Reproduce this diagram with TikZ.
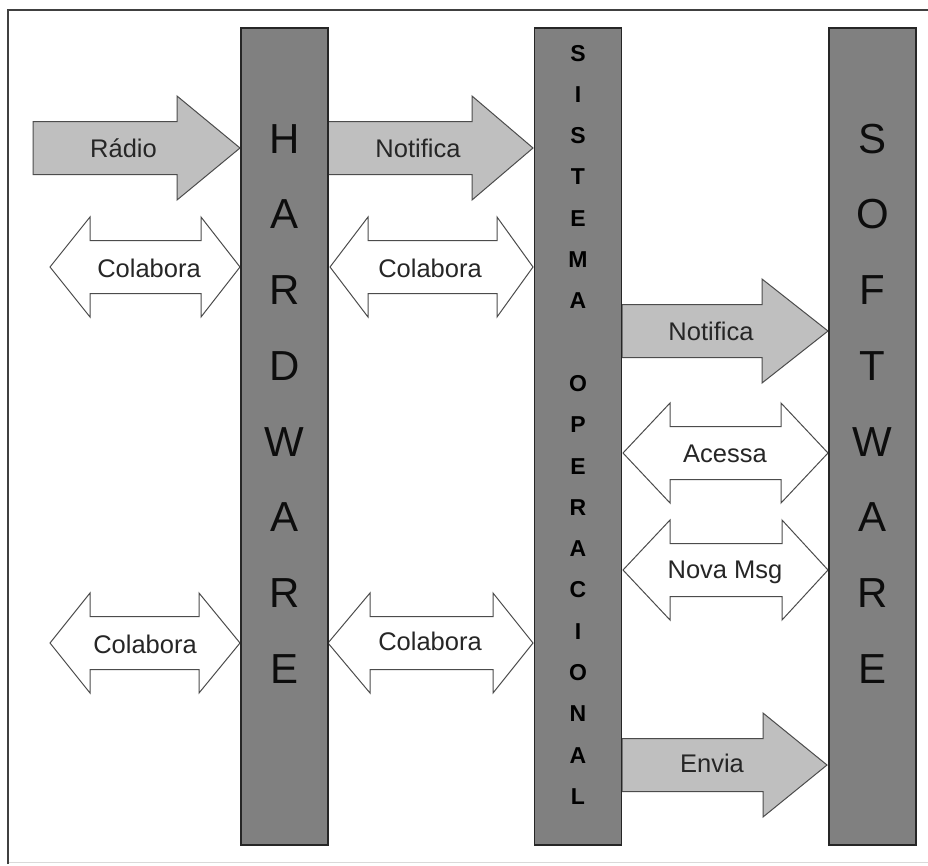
\documentclass[tikz,border=0pt]{standalone}
\usepackage{fontspec}
\setmainfont{Liberation Sans}

% one-way block arrow: left x, head base x, tip x, centre y
\newcommand\fwdarrow[4]{%
  \draw[fatarrow] (#1,#4-26.5) -- (#2,#4-26.5) -- (#2,#4-52) -- (#3,#4)
    -- (#2,#4+52) -- (#2,#4+26.5) -- (#1,#4+26.5) -- cycle;}
% two-way block arrow: left tip x, left base x, right base x, right tip x, centre y
\newcommand\bothways[5]{%
  \draw[twoway] (#1,#5) -- (#2,#5-50) -- (#2,#5-26.5) -- (#3,#5-26.5)
    -- (#3,#5-50) -- (#4,#5) -- (#3,#5+50) -- (#3,#5+26.5)
    -- (#2,#5+26.5) -- (#2,#5+50) -- cycle;}

\begin{document}
\begin{tikzpicture}[x=1pt,y=-1pt,
  frame/.style={draw=black!75, line width=1.8pt},
  bar/.style={draw=black!85, line width=1.5pt, fill=black!50, rectangle,
    minimum width=87pt, minimum height=817pt, inner sep=0pt},
  fatarrow/.style={draw=black!70, line width=1pt, fill=black!25, line join=miter},
  twoway/.style={draw=black!70, line width=1pt, fill=white, line join=miter},
  lbl/.style={font=\fontsize{25.5}{30}\selectfont, text=black!85, anchor=base, inner sep=0pt},
  bigletter/.style={font=\fontsize{42}{48}\selectfont, text=black!95, anchor=base, inner sep=0pt},
  soletter/.style={font=\bfseries\fontsize{23}{26}\selectfont, text=black, anchor=base, inner sep=0pt}
]
\useasboundingbox (0,0) rectangle (928,865);
\fill[white] (0,0) rectangle (928,865);

% outer frame (right side runs off the page)
\draw[black!15, line width=1pt] (8,862) -- (928,862);
\draw[frame] (8,864) -- (8,10) -- (928,10);

% block arrows
\fwdarrow{33}{177}{240}{148}
\fwdarrow{328}{472}{533}{148}
\fwdarrow{622}{762}{828}{331}
\fwdarrow{622}{763}{827}{765}

\bothways{50}{90}{201}{240}{267}
\bothways{330}{368}{497}{533}{267}
\bothways{623}{670}{781}{828}{453}
\bothways{623}{670}{782}{828}{570}
\bothways{50}{90}{199}{240}{643}
\bothways{328}{370}{493}{533}{643}

% vertical layers
\node[bar] (hw) at (284.5,436.5) {};
\node[bar] (so) at (578,436.5) {};
\node[bar] (sw) at (872.5,436.5) {};

\foreach \ch [count=\i from 0] in {H,A,R,D,W,A,R,E}
  \node[bigletter] (hw\i) at (284.5,{153+75.75*\i}) {\ch};
\foreach \ch [count=\i from 0] in {S,O,F,T,W,A,R,E}
  \node[bigletter] (sw\i) at (872.5,{153+75.75*\i}) {\ch};
\foreach \ch [count=\i from 0] in {S,I,S,T,E,M,A}
  \node[soletter] (so\i) at (578,{61+41.3*\i}) {\ch};
\foreach \ch [count=\i from 8] in {O,P,E,R,A,C,I,O,N,A,L}
  \node[soletter] (so\i) at (578,{61+41.3*\i}) {\ch};

% arrow labels
\node[lbl] (radio)   at (123.5,157) {Rádio};
\node[lbl] (colab1)  at (149,277)   {Colabora};
\node[lbl] (notif1)  at (418,157)   {Notifica};
\node[lbl] (colab2)  at (430,277)   {Colabora};
\node[lbl] (notif2)  at (711,340)   {Notifica};
\node[lbl] (acessa)  at (725,462)   {Acessa};
\node[lbl] (novamsg) at (725,578)   {Nova Msg};
\node[lbl] (envia)   at (712,772)   {Envia};
\node[lbl] (colab3)  at (145,653)   {Colabora};
\node[lbl] (colab4)  at (430,650)   {Colabora};
\end{tikzpicture}
\end{document}
